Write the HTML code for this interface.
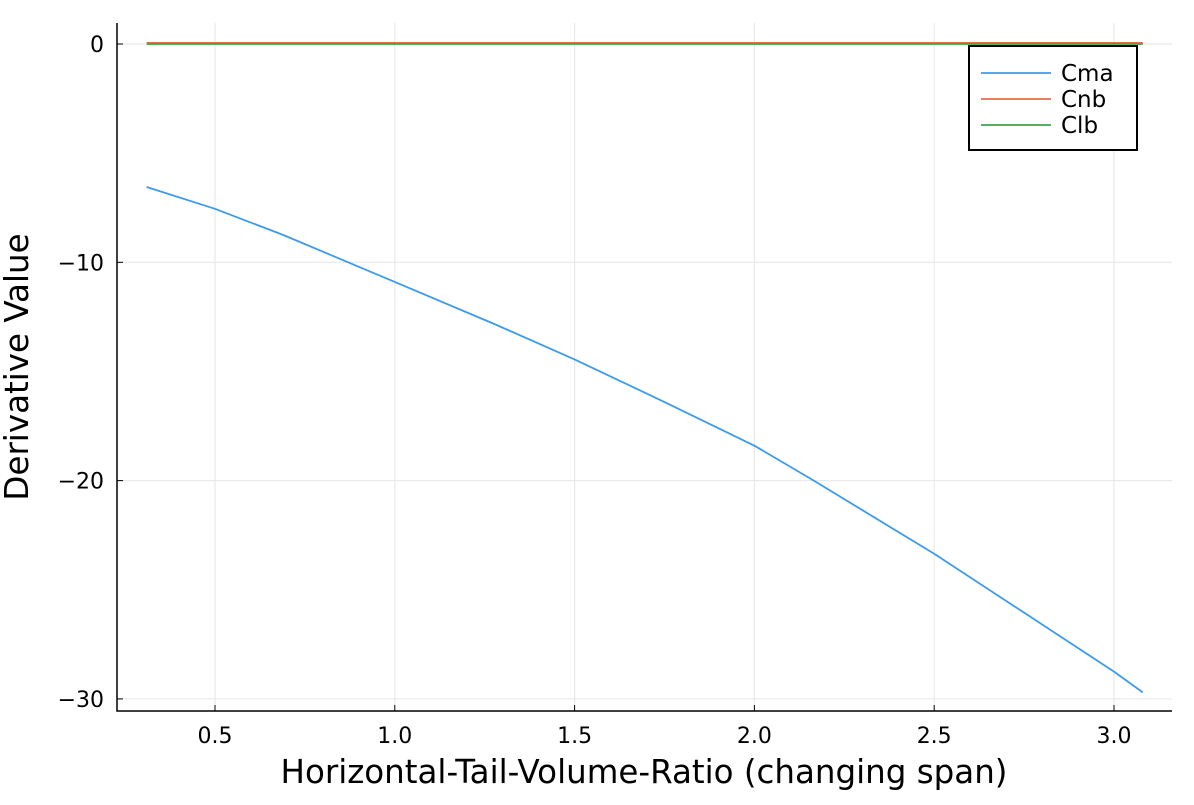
<!DOCTYPE html>
<html><head><meta charset="utf-8"><style>
body{margin:0;background:#fff;}
svg text{font-family:"DejaVu Sans","Liberation Sans",sans-serif;fill:#000;}
</style></head><body>
<svg id="chart" width="1194" height="800" xmlns="http://www.w3.org/2000/svg">
<g id="grid"></g>
<g id="series"></g>
<g id="axes"></g>
<text x="644" y="783" font-size="32.5" text-anchor="middle">Horizontal-Tail-Volume-Ratio (changing span)</text>
<text transform="translate(28,367) rotate(-90)" font-size="32.5" text-anchor="middle">Derivative Value</text>
<g>
<rect x="969" y="46" width="168" height="104" fill="#fff" stroke="#000" stroke-width="2"/>
<line x1="981" y1="73" x2="1051" y2="73" stroke="#3d9be9" stroke-width="1.8"/>
<text x="1061" y="81" font-size="23">Cma</text>
<line x1="981" y1="99" x2="1051" y2="99" stroke="#E36F47" stroke-width="1.8"/>
<text x="1061" y="107" font-size="23">Cnb</text>
<line x1="981" y1="125" x2="1051" y2="125" stroke="#3EA44E" stroke-width="1.8"/>
<text x="1061" y="133" font-size="23">Clb</text>
</g>
</svg>
<script>
const xs=[0.31,0.5,0.69,1.0,1.28,1.5,1.75,2.0,2.16,2.5,3.0,3.08];
const cma=[-6.55,-7.55,-8.75,-10.9,-12.85,-14.45,-16.4,-18.4,-19.95,-23.35,-28.75,-29.7];
const cnb=[0.05,0.05,0.05,0.05,0.05,0.05,0.05,0.05,0.05,0.05,0.05,0.05];
const clb=[0,0,0,0,0,0,0,0,0,0,0,0];
const xTicks=[0.5,1.0,1.5,2.0,2.5,3.0];
const xTickLabels=["0.5","1.0","1.5","2.0","2.5","3.0"];
const yTicks=[0,-10,-20,-30];
const yTickLabels=["0","\u221210","\u221220","\u221230"];
const X=v=>215+(v-0.5)*359.6;
const Y=v=>44-v*21.83;
const NS="http://www.w3.org/2000/svg";
const L=117,R=1172,T=23,B=711;
function mk(tag,attrs,parent){const e=document.createElementNS(NS,tag);for(const k in attrs)e.setAttribute(k,attrs[k]);document.getElementById(parent).appendChild(e);return e;}
xTicks.forEach((t,i)=>{
 const g=mk('line',{x1:X(t),x2:X(t),y1:T,y2:B,stroke:'#e6e6e6','stroke-width':1},'grid');
 
 
 const k=mk('line',{x1:X(t),x2:X(t),y1:B,y2:B-6,stroke:'#000','stroke-width':1},'axes');
 
 
 const tx=mk('text',{x:X(t),y:743,'font-size':22,'text-anchor':'middle'},'axes');
 tx.textContent=xTickLabels[i];
 
 
});
yTicks.forEach((t,i)=>{
 const g=mk('line',{x1:L,x2:R,y1:Y(t),y2:Y(t),stroke:'#e6e6e6','stroke-width':1},'grid');
 
 
 const k=mk('line',{x1:L,x2:L+6,y1:Y(t),y2:Y(t),stroke:'#000','stroke-width':1},'axes');
 
 
 const tx=mk('text',{x:104,y:Y(t)+8,'font-size':22,'text-anchor':'end'},'axes');
 tx.textContent=yTickLabels[i];
 
 
});
const ax=mk('path',{d:`M${L} ${T} V${B} H${R}`,fill:'none',stroke:'#000','stroke-width':1.5},'axes');


[[cma,'#3d9be9','series-cma'],[cnb,'#E36F47','series-cnb'],[clb,'#3EA44E','series-clb']].forEach(([ys,c,n])=>{
 const p=mk('polyline',{points:xs.map((x,i)=>X(x)+','+Y(ys[i])).join(' '),fill:'none',stroke:c,'stroke-width':1.8,'stroke-linejoin':'round'},'series');
 
 
});
</script>
</body></html>
